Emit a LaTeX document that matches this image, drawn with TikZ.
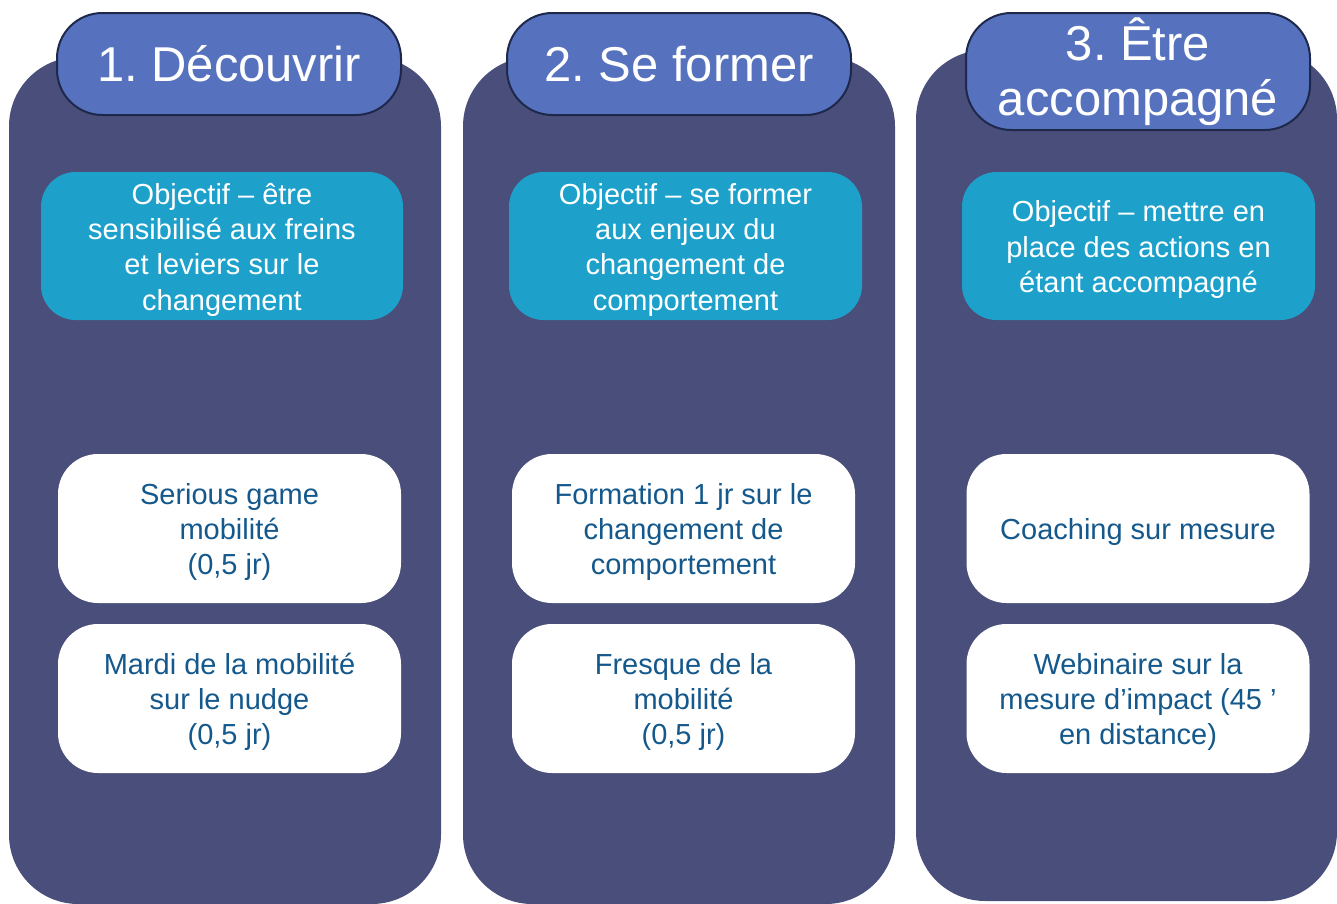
\documentclass[tikz,border=0pt]{standalone}
\usepackage{fontspec}
\setmainfont{Liberation Sans}
\definecolor{colfill}{RGB}{74,78,122}
\definecolor{headfill}{RGB}{86,114,190}
\definecolor{headdraw}{RGB}{30,40,75}
\definecolor{objfill}{RGB}{29,161,203}
\definecolor{boxtext}{RGB}{20,88,140}
\newcommand\boxlines[1]{\raisebox{-3pt}[\height][\depth]{\begin{tabular}{@{}c@{}}#1\end{tabular}}}
\begin{document}
\frenchspacing
\begin{tikzpicture}[x=0.75pt,y=-0.75pt,
  column/.style={fill=colfill,draw=none,rounded corners=52pt,inner sep=0pt,minimum width=432*0.75pt},
  header/.style={fill=headfill,draw=headdraw,line width=1.5pt,rounded corners=34pt,inner sep=0pt,
     minimum width=344*0.75pt,text=white,align=center,font=\fontsize{36.7}{41.5}\selectfont},
  objbox/.style={fill=objfill,draw=none,rounded corners=26pt,inner sep=0pt,minimum height=148*0.75pt,
     text=white,font=\fontsize{21.75}{26.5}\selectfont},
  actbox/.style={fill=white,draw=none,rounded corners=30pt,inner sep=0pt,minimum width=343*0.75pt,
     minimum height=149*0.75pt,text=boxtext,font=\fontsize{21.75}{26.5}\selectfont}]
\useasboundingbox (0,0) rectangle (1337,903);
% columns
\node[column,minimum height=847*0.75pt] (col1) at (225,480.5) {};
\node[column,minimum height=847*0.75pt] (col2) at (679,480.5) {};
\node[column,minimum width=421*0.75pt,minimum height=851*0.75pt] (col3) at (1126.5,475.5) {};
% headers
\node[header,minimum height=102*0.75pt] (head1) at (229,64) {1. Découvrir};
\node[header,minimum height=102*0.75pt] (head2) at (679,64) {2. Se former};
\node[header,minimum height=117*0.75pt] (head3) at (1138,71.5) {3. Être\\accompagné};
% objectives
\node[objbox,minimum width=362*0.75pt] (obj1) at (222,246) {\boxlines{Objectif – être\\sensibilisé aux freins\\et leviers sur le\\changement}};
\node[objbox,minimum width=353*0.75pt] (obj2) at (685.5,246) {\boxlines{Objectif – se former\\aux enjeux du\\changement de\\comportement}};
\node[objbox,minimum width=353*0.75pt] (obj3) at (1138.5,246) {\boxlines{Objectif – mettre en\\place des actions en\\étant accompagné}};
% activities
\node[actbox] (a1) at (229.5,528.5) {\boxlines{Serious game\\mobilité\\(0,5 jr)}};
\node[actbox] (b1) at (229.5,698.5) {\boxlines{Mardi de la mobilité\\sur le nudge\\(0,5 jr)}};
\node[actbox] (a2) at (683.5,528.5) {\boxlines{Formation 1 jr sur le\\changement de\\comportement}};
\node[actbox] (b2) at (683.5,698.5) {\boxlines{Fresque de la\\mobilité\\(0,5 jr)}};
\node[actbox] (a3) at (1138,528.5) {\boxlines{Coaching sur mesure}};
\node[actbox] (b3) at (1138,698.5) {\boxlines{Webinaire sur la\\mesure d’impact (45 ’\\en distance)}};
\end{tikzpicture}
\end{document}
